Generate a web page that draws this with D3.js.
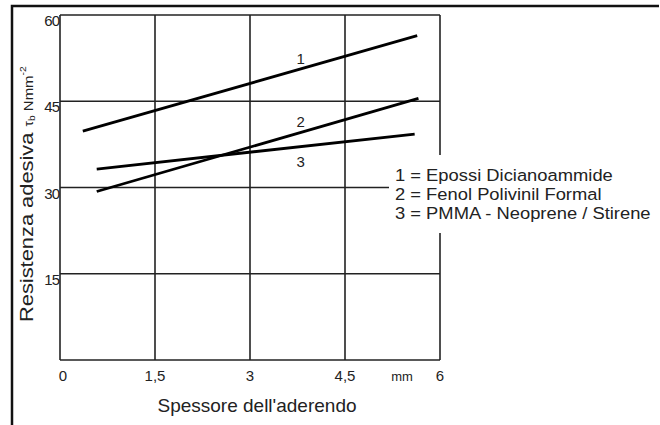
<!DOCTYPE html>
<html lang="it">
  <head>
    <meta charset="utf-8">
    <title>Resistenza adesiva</title>
    <script src="https://d3js.org/d3.v7.min.js"></script>
    <style>
      body { margin: 0; background-color: white; }
      svg { background-color: white; display: block; }
      text { font-family: "Liberation Sans", Arial, sans-serif; fill: #222; }
    </style>
  </head>
  <body>
    <script>
      var w = 660;
      var h = 425;

      // data (x = mm, y = N/mm2)
      var curveIds = ["1", "2", "3"];
      var curve1 = [[0.36, 39.8], [5.64, 56.4]];
      var curve2 = [[0.58, 29.3], [5.66, 45.5]];
      var curve3 = [[0.58, 33.2], [5.6, 39.3]];
      var curveLabelAt = [[3.8, 51.5], [3.8, 40.5], [3.8, 33.5]];
      var legendItems = ["1 = Epossi Dicianoammide", "2 = Fenol Polivinil Formal", "3 = PMMA - Neoprene / Stirene"];
      var xTicks = [0, 1.5, 3, 4.5, 6];
      var xTickText = ["0", "1,5", "3", "4,5", "6"];
      var yTicks = [15, 30, 45, 60];

      let svg = d3.select("body").append("svg")
        .attr("width", w)
        .attr("height", h);

      let x = d3.scaleLinear().domain([0, 6]).range([60, 440]);
      let y = d3.scaleLinear().domain([0, 60]).range([360, 15]);

      // outer frame (top + left only)
      svg.append("path")
        .attr("d", "M12,425 V6 H659")
        .attr("fill", "none")
        .attr("stroke", "#111")
        .attr("stroke-width", 2.5);

      // grid
      let grid = svg.append("g").attr("stroke", "#222").attr("stroke-width", 1.6);
      grid.selectAll("line.v").data(xTicks).enter().append("line")
        .attr("x1", d => x(d)).attr("x2", d => x(d))
        .attr("y1", y(0)).attr("y2", y(60));
      grid.selectAll("line.h").data([0].concat(yTicks)).enter().append("line")
        .attr("x1", x(0)).attr("x2", x(6))
        .attr("y1", d => y(d)).attr("y2", d => y(d));

      // curves
      let line = d3.line().x(d => x(d[0])).y(d => y(d[1]));
      svg.selectAll("path.curve").data([curve1, curve2, curve3]).enter().append("path")
        .attr("class", "curve")
        .attr("d", line)
        .attr("fill", "none")
        .attr("stroke", "#000")
        .attr("stroke-width", 2.8);

      svg.selectAll("text.cl").data(curveIds).enter().append("text")
        .attr("x", (d, i) => x(curveLabelAt[i][0]))
        .attr("y", (d, i) => y(curveLabelAt[i][1]))
        .attr("text-anchor", "middle")
        .attr("font-size", 15)
        .text(d => d);

      // tick labels
      svg.selectAll("text.xt").data(xTicks).enter().append("text")
        .attr("x", (d, i) => i == 0 ? x(d) + 3 : x(d))
        .attr("y", 381)
        .attr("text-anchor", "middle")
        .attr("font-size", 15)
        .attr("fill", "#333")
        .text((d, i) => xTickText[i]);
      svg.append("text")
        .attr("x", 402).attr("y", 381)
        .attr("text-anchor", "middle")
        .attr("font-size", 13)
        .attr("fill", "#333")
        .text("mm");

      svg.selectAll("text.yt").data(yTicks).enter().append("text")
        .attr("x", 59)
        .attr("y", d => y(d) + 11)
        .attr("text-anchor", "end")
        .attr("font-size", 15)
        .attr("letter-spacing", -1)
        .attr("fill", "#333")
        .text(d => d);

      // axis titles
      svg.append("text")
        .attr("x", 257).attr("y", 412)
        .attr("text-anchor", "middle")
        .attr("font-size", 19)
        .text("Spessore dell'aderendo");

      let yt = svg.append("text")
        .attr("transform", "translate(33,322) rotate(-90) scale(1.15,1)")
        .attr("text-anchor", "start")
        .attr("font-size", 19);
      yt.append("tspan").text("Resistenza adesiva ");
      yt.append("tspan").attr("font-size", 12).text(" τ");
      yt.append("tspan").attr("font-size", 9).attr("dy", 2).text("b");
      yt.append("tspan").attr("font-size", 13).attr("dy", -2).text("  Nmm");
      yt.append("tspan").attr("font-size", 9).attr("dy", -7).text("-2");

      // legend
      svg.append("rect")
        .attr("x", 389).attr("y", 155)
        .attr("width", 271).attr("height", 78)
        .attr("fill", "white");
      svg.selectAll("text.lg").data(legendItems).enter().append("text")
        .attr("x", 395)
        .attr("y", (d, i) => 181 + i * 19)
        .attr("font-size", 17)
        .attr("transform", "translate(395,0) scale(1.08,1) translate(-395,0)")
        .text(d => d);
    </script>
  </body>
</html>
